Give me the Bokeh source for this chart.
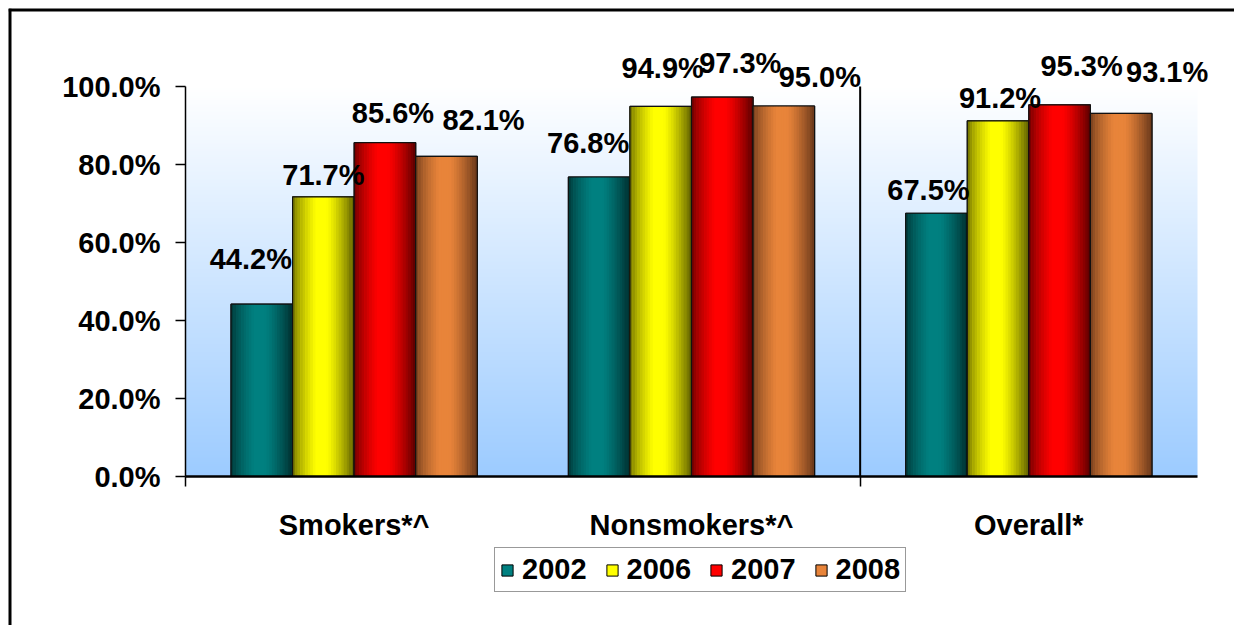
import numpy as np
from bokeh.plotting import figure
from bokeh.models import (Range1d, FixedTicker, PrintfTickFormatter, Legend,
                          LegendItem, LabelSet, ColumnDataSource)
from bokeh.core.properties import value
from bokeh.embed import file_html
from bokeh.resources import INLINE

# ---------------- data ----------------
categories = ["Smokers*^", "Nonsmokers*^", "Overall*"]
years = ["2002", "2006", "2007", "2008"]
v2002 = [44.2, 76.8, 67.5]
v2006 = [71.7, 94.9, 91.2]
v2007 = [85.6, 97.3, 95.3]
v2008 = [82.1, 95.0, 93.1]
y_ticks = [0, 20, 40, 60, 80, 100]

series = [v2002, v2006, v2007, v2008]

# ---------------- styles ----------------
base_colors = ["#008080", "#FFFF00", "#FF0000", "#E8843A"]
edge_colors = ["#002E2E", "#5E5E00", "#5A0000", "#66361A"]
FONT = "Liberation Sans"
FS = "29px"

# value label nudges in pixels (right, up) relative to each bar's top centre
label_dx = [[-11, -11, -8], [0, 2, 2], [8, 18, 22], [37, 36, 46]]
label_dy = [[45, 34, 23], [22, 38, 23], [30, 34, 39], [36, 29, 41]]

group_w = 0.73
bar_w = group_w / len(series)
n_strips = 24


def hex2rgb(h):
    h = h.lstrip("#")
    return np.array([int(h[i:i + 2], 16) for i in (0, 2, 4)], dtype=float)


def rgb2hex(c):
    c = np.clip(np.round(c), 0, 255).astype(int)
    return "#%02x%02x%02x" % tuple(c)


def profile(t):
    if t < 0.38:
        return (t / 0.38) ** 0.6
    if t <= 0.55:
        return 1.0
    return 1 - ((t - 0.55) / 0.45) ** 1.3


# the frame covers the whole figure; axes are pinned at 0
X_START, X_END = -0.5247, 3.1097
Y_BOT, Y_TOP = -38.205, 120.0
p = figure(width=1226, height=617, x_range=Range1d(X_START, X_END),
           y_range=Range1d(Y_BOT, Y_TOP), output_backend="svg", toolbar_location=None,
           min_border_left=0, min_border_right=0, min_border_top=0, min_border_bottom=0)
p.styles = {"margin-left": "8px", "margin-top": "8px"}
p.background_fill_color = "white"
p.border_fill_color = "white"
p.outline_line_color = None
p.grid.visible = False

# background gradient of the plot area (light blue at bottom to white at top)
nb = 400
c_lo = hex2rgb("#9CCBFF")
c_hi = hex2rgb("#FFFFFF")
img = np.zeros((nb, 2, 4), dtype=np.uint8)
for i in range(nb):
    t = (i + 0.5) / nb
    img[i, :, :3] = np.round(c_lo + (c_hi - c_lo) * t).astype(np.uint8)
    img[i, :, 3] = 255
p.image_rgba(image=[img.view(dtype=np.uint32).reshape((nb, 2))], x=0, y=0, dw=3, dh=100)

# chart border (left and top edges of the picture)
p.segment(x0=[X_START, X_START], y0=[Y_BOT, Y_TOP], x1=[X_START, X_END], y1=[Y_TOP, Y_TOP],
          line_color="black", line_width=6)

# separator line between Nonsmokers and Overall
p.segment(x0=[2], y0=[0], x1=[2], y1=[100], line_color="black", line_width=2)

legend_items = []
cat_idx = np.arange(len(categories))
for s, vals in enumerate(series):
    centers = cat_idx + 0.5 + (s - (len(series) - 1) / 2) * bar_w
    base = hex2rgb(base_colors[s])
    edge = hex2rgb(edge_colors[s])
    r = p.vbar(x=centers, width=bar_w, top=vals, bottom=0, fill_color=base_colors[s],
               line_color="black", line_width=1)
    legend_items.append(LegendItem(label=years[s], renderers=[r]))
    xs, ws, tops, cols = [], [], [], []
    sw = bar_w / n_strips
    for ci, v in enumerate(vals):
        left = centers[ci] - bar_w / 2
        for k in range(n_strips):
            t = (k + 0.5) / n_strips
            f = profile(t)
            xs.append(left + (k + 0.5) * sw)
            ws.append(sw * 1.15)
            tops.append(v)
            cols.append(rgb2hex(edge + (base - edge) * f))
    p.vbar(x=xs, width=ws, top=tops, bottom=0, fill_color=cols, line_color=None)
    p.vbar(x=centers, width=bar_w, top=vals, bottom=0, fill_color=None,
           line_color="#111111", line_width=1.2)
    src = ColumnDataSource(dict(x=centers, y=vals, text=[f"{v:.1f}%" for v in vals],
                                dx=label_dx[s], dy=label_dy[s]))
    p.add_layout(LabelSet(x="x", y="y", text="text", source=src, x_offset="dx", y_offset="dy",
                          text_align="center", text_baseline="middle", text_font=value(FONT),
                          text_font_size=value(FS), text_font_style="bold", text_color="black"))

# y axis, drawn at x = 0
ya = p.yaxis[0]
ya.fixed_location = 0
ya.ticker = FixedTicker(ticks=y_ticks)
ya.formatter = PrintfTickFormatter(format="%.1f%%")
ya.bounds = (0, 100)
ya.major_tick_out = 10
ya.major_tick_in = 0
ya.minor_tick_line_color = None
ya.axis_line_width = 1.5
ya.major_tick_line_width = 1.5
ya.major_label_text_font = FONT
ya.major_label_text_font_size = FS
ya.major_label_text_font_style = "bold"
ya.major_label_text_color = "black"
ya.major_label_standoff = 15

# x axis, drawn at the 0 % line
xa = p.xaxis[0]
xa.fixed_location = 0
xa.ticker = FixedTicker(ticks=[i + 0.5 for i in cat_idx], minor_ticks=[0, 2])
xa.major_label_overrides = {i + 0.5: c for i, c in zip(cat_idx, categories)}
xa.bounds = (0, 3)
xa.major_tick_line_color = None
xa.major_tick_out = 0
xa.major_tick_in = 0
xa.minor_tick_out = 10
xa.minor_tick_in = 0
xa.minor_tick_line_width = 1.5
xa.minor_tick_line_color = "black"
xa.axis_line_width = 2.5
xa.major_label_text_font = FONT
xa.major_label_text_font_size = FS
xa.major_label_text_font_style = "bold"
xa.major_label_text_color = "black"
xa.major_label_standoff = 22

legend = Legend(items=legend_items, orientation="horizontal", location=(486, 33),
                glyph_width=14, glyph_height=14, label_standoff=8, spacing=18,
                padding=5, margin=0, label_text_font=FONT, label_text_font_size=FS,
                label_text_font_style="bold", label_text_color="black",
                border_line_color="#333333", border_line_width=1.5,
                background_fill_color="white", background_fill_alpha=1.0)
p.add_layout(legend)

open("out.html", "w").write(file_html(p, INLINE))
